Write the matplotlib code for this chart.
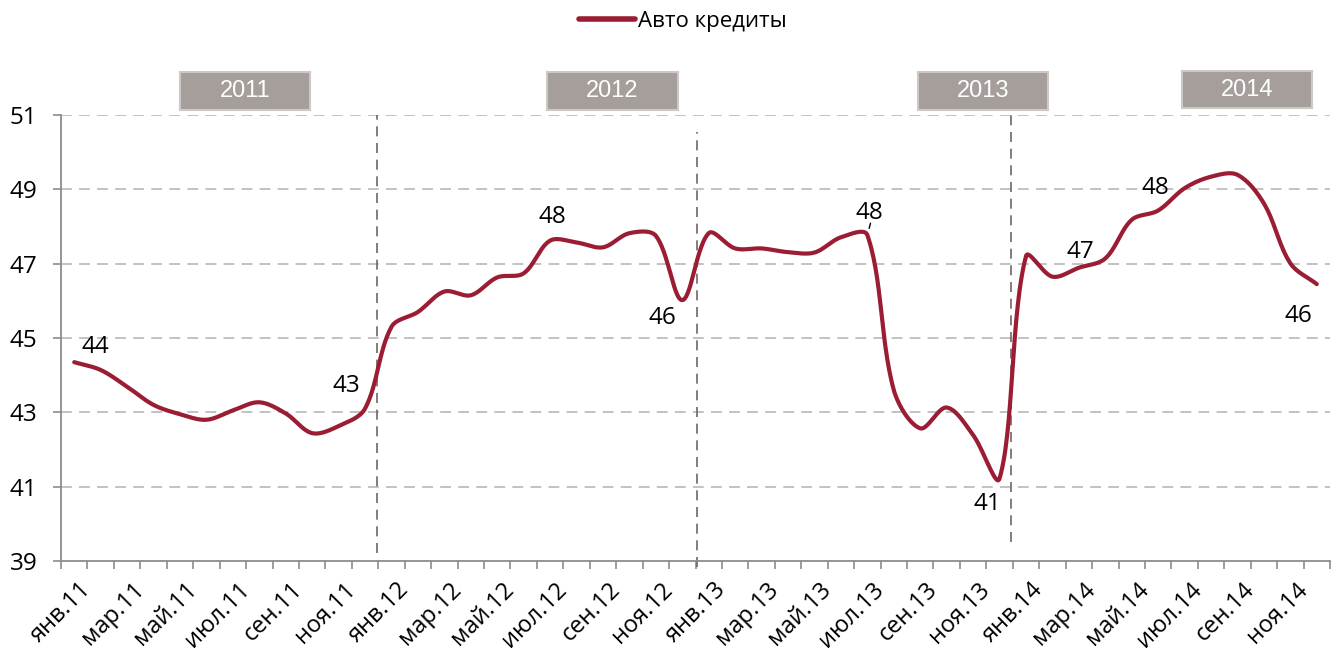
import numpy as np
import matplotlib
matplotlib.use('Agg')
import matplotlib.pyplot as plt
from matplotlib.patches import Rectangle
from matplotlib.lines import Line2D
from matplotlib.transforms import ScaledTranslation

# ---------------- data ----------------
months = ['янв', 'фев', 'мар', 'апр', 'май', 'июн', 'июл', 'авг', 'сен', 'окт', 'ноя', 'дек']
years = ['11', '12', '13', '14']
categories = [f'{m}.{y}' for y in years for m in months]
values = [44.35, 44.14, 43.69, 43.20, 42.95, 42.80, 43.05, 43.27, 42.97, 42.44, 42.63, 43.10,
          45.30, 45.70, 46.25, 46.15, 46.63, 46.74, 47.62, 47.57, 47.44, 47.82, 47.75, 46.02,
          47.82, 47.41, 47.41, 47.31, 47.30, 47.71, 47.77, 43.60, 42.57, 43.13, 42.39, 41.22,
          47.20, 46.65, 46.89, 47.14, 48.18, 48.43, 49.03, 49.34, 49.39, 48.62, 47.01, 46.45]
series_name = 'Авто кредиты'
year_labels = ['2011', '2012', '2013', '2014']
label_idx = [0, 11, 18, 23, 30, 35, 38, 41, 47]
label_text = ['44', '43', '48', '46', '48', '41', '47', '48', '46']
y_ticks = [39, 41, 43, 45, 47, 49, 51]

# ---------------- style ----------------
W, H = 1335, 653
FONT = ['Open Sans', 'DejaVu Sans']
NARROW = ['Liberation Sans Narrow', 'Liberation Sans', 'DejaVu Sans']
plt.rcParams['font.family'] = FONT
LINE_C = '#9b1d33'
GRID_C = '#bdbdbd'
AX_C = '#8c8c8c'
FS = 17.5
X_PX = 26.44   # pixels per category
Y_PX = 37.17   # pixels per unit


def smooth(x, y, n=30):
    """Excel-like smoothed line: Bezier segments with distance-weighted tangents."""
    P = np.column_stack([np.asarray(x, float) * X_PX, np.asarray(y, float) * Y_PX])
    P = np.vstack([P[0], P, P[-1]])
    t = np.linspace(0, 1, n, endpoint=False)[:, None]
    out = []
    for i in range(1, len(P) - 2):
        p0, p1, p2, p3 = P[i - 1], P[i], P[i + 1], P[i + 2]
        d01 = np.linalg.norm(p1 - p0)
        d12 = np.linalg.norm(p2 - p1)
        d23 = np.linalg.norm(p3 - p2)
        f1 = d12 / (d01 + d12) / 3 if d01 + d12 > 0 else 0
        f2 = d12 / (d12 + d23) / 3 if d12 + d23 > 0 else 0
        c1 = p1 + (p2 - p0) * f1
        c2 = p2 - (p3 - p1) * f2
        b = (1 - t) ** 3 * p1 + 3 * (1 - t) ** 2 * t * c1 + 3 * (1 - t) * t ** 2 * c2 + t ** 3 * p2
        out.append(b)
    out.append(P[-2][None, :])
    out = np.vstack(out)
    return out[:, 0] / X_PX, out[:, 1] / Y_PX


fig = plt.figure(figsize=(W / 100, H / 100), dpi=100)
ax = fig.add_axes([61 / W, 1 - 561 / H, (1330 - 61) / W, (561 - 115) / H])

n = len(categories)
xi = np.arange(n)
sx, sy = smooth(xi, values)
ax.plot(sx, sy, color=LINE_C, lw=3.0, solid_capstyle='round', solid_joinstyle='round', zorder=5)

ax.set_xlim(-0.5, n - 0.5)
ax.set_ylim(39, 51)
ax.set_yticks(y_ticks)
ax.set_yticklabels([str(v) for v in y_ticks], fontsize=FS)
ax.tick_params(axis='y', length=6, width=1.2, color=AX_C, pad=11)

ax.set_xticks(np.arange(-0.5, n, 1.0))
ax.set_xticklabels([])
ax.tick_params(axis='x', which='major', length=6, width=1.2, color=AX_C)
ax.set_xticks(xi[::2], minor=True)
ax.set_xticklabels(categories[::2], minor=True, rotation=45, ha='right',
                   va='top', rotation_mode='anchor', fontsize=17)
ax.tick_params(axis='x', which='minor', length=0, pad=12)
shift = ScaledTranslation(5 / 100, 0, fig.dpi_scale_trans)
for lab in ax.get_xticklabels(minor=True):
    lab.set_transform(lab.get_transform() + shift)

for s in ['top', 'right']:
    ax.spines[s].set_visible(False)
for s in ['left', 'bottom']:
    ax.spines[s].set_color(AX_C)
    ax.spines[s].set_linewidth(1.3)

for v in y_ticks[1:]:
    ax.axhline(v, color=GRID_C, lw=1.3, dashes=(6, 4), zorder=1)

# year separators
xt = ax.get_xaxis_transform()
for xb, y0, y1 in [(11.45, 0.018, 1.0), (23.55, -0.013, 0.962), (35.45, 0.043, 1.012)]:
    ax.plot([xb, xb], [y0, y1], transform=xt, color='#6f6563', lw=1.2,
            dashes=(6, 4), clip_on=False, zorder=2)

# data labels (offsets in pixels from the point to the digit centre)
offsets = [(21, 18), (-19, 25), (2, 26), (-20, -15), (2, 25), (-12, -23), (2, 18), (-3, 25), (-18, -29)]
CAP_HALF = 8.5
for k, (i, t) in enumerate(zip(label_idx, label_text)):
    dx, dy = offsets[k]
    ax.annotate(t, xy=(i, values[i]), xytext=(dx, dy - CAP_HALF), textcoords='offset pixels',
                ha='center', va='baseline', fontsize=FS, color='black', zorder=6)
# leader line for jul.13 label
ax.annotate('', xy=(30, values[30]), xytext=(30.12, values[30] + 0.32),
            arrowprops=dict(arrowstyle='-', color='black', lw=1.0, shrinkA=0, shrinkB=5))

# year boxes
boxes = [(180, 72, 310, 110), (547, 72, 678, 110), (918, 72, 1048, 110), (1182, 71, 1312, 108)]
for (x0, y0, x1, y1), lab in zip(boxes, year_labels):
    fig.add_artist(Rectangle((x0 / W, 1 - y1 / H), (x1 - x0) / W, (y1 - y0) / H,
                             transform=fig.transFigure, facecolor='#a59e9b',
                             edgecolor='#cdc9c7', lw=1.5))
    fig.text((x0 + x1) / 2 / W, 1 - (y0 + y1) / 2 / H, lab, ha='center', va='center',
             color='white', fontsize=17, family=NARROW)

# legend
handle = Line2D([], [], color=LINE_C, lw=4.0, solid_capstyle='round')
fig.legend([handle], [series_name], loc='center', bbox_to_anchor=(683 / W, 1 - 21 / H),
           frameon=False, fontsize=16, handlelength=2.5, handletextpad=0.14,
           borderpad=0, borderaxespad=0)

fig.savefig('out.png', dpi=100)
